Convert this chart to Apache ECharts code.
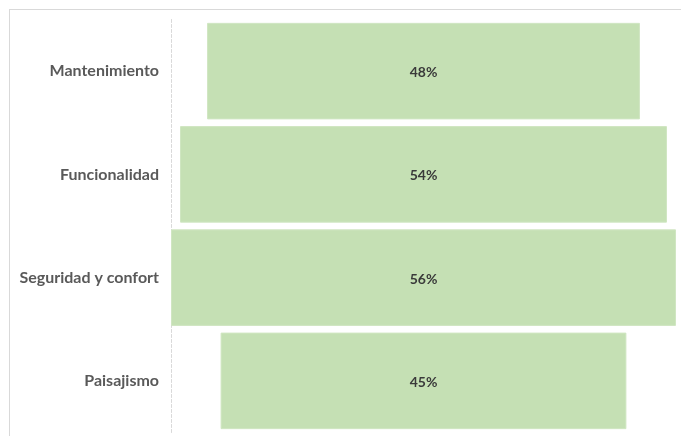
<!DOCTYPE html>
<html>
<head>
<meta charset="utf-8">
<script src="https://cdn.jsdelivr.net/npm/echarts@6/dist/echarts.min.js"></script>
<style>
  html, body { margin: 0; padding: 0; background: #fff; }
  #chart { width: 681px; height: 436px; }
</style>
</head>
<body>
<div id="chart"></div>
<script>
// Survey aspects, top to bottom
const categories = ['Mantenimiento', 'Funcionalidad', 'Seguridad y confort', 'Paisajismo'];
// Share per aspect, in percent
const values = [48, 54, 56, 45];

const maxValue = Math.max(...values);
// Invisible spacer so each bar sits centred on the widest one
const spacer = values.map(v => (maxValue - v) / 2);

const chart = echarts.init(document.getElementById('chart'));
chart.setOption({
  animation: false,
  grid: { left: 171, right: 5, top: 19.5, bottom: 3.5 },
  xAxis: {
    type: 'value', min: 0, max: maxValue, show: false
  },
  yAxis: {
    type: 'category',
    data: categories,
    inverse: true,
    axisLine: { show: true, lineStyle: { color: '#d9d9d9', width: 1, type: [3, 2] } },
    axisTick: { show: false },
    axisLabel: {
      margin: 12,
      color: '#595959',
      fontFamily: 'Lato',
      fontWeight: 'bold',
      fontSize: 16,
      padding: [3, 0, 0, 0]
    }
  },
  series: [
    {
      type: 'bar', stack: 'funnel', data: spacer,
      itemStyle: { color: 'transparent' },
      barCategoryGap: '6.5%',
      silent: true
    },
    {
      type: 'bar', stack: 'funnel', data: values,
      barCategoryGap: '6.5%',
      itemStyle: { color: '#c5e0b4', borderColor: '#d0e6c2', borderWidth: 1 },
      label: {
        show: true, position: 'inside',
        offset: [0, 1.5],
        formatter: p => p.value + '%',
        color: '#3a3a3a', fontFamily: 'Lato', fontWeight: 'bold', fontSize: 14
      }
    }
  ],
  graphic: [
    { type: 'line', shape: { x1: 9, y1: 9.5, x2: 681, y2: 9.5 }, style: { stroke: '#d9d9d9', lineWidth: 1 } },
    { type: 'line', shape: { x1: 9.5, y1: 9, x2: 9.5, y2: 436 }, style: { stroke: '#d9d9d9', lineWidth: 1 } }
  ]
});
</script>
</body>
</html>
